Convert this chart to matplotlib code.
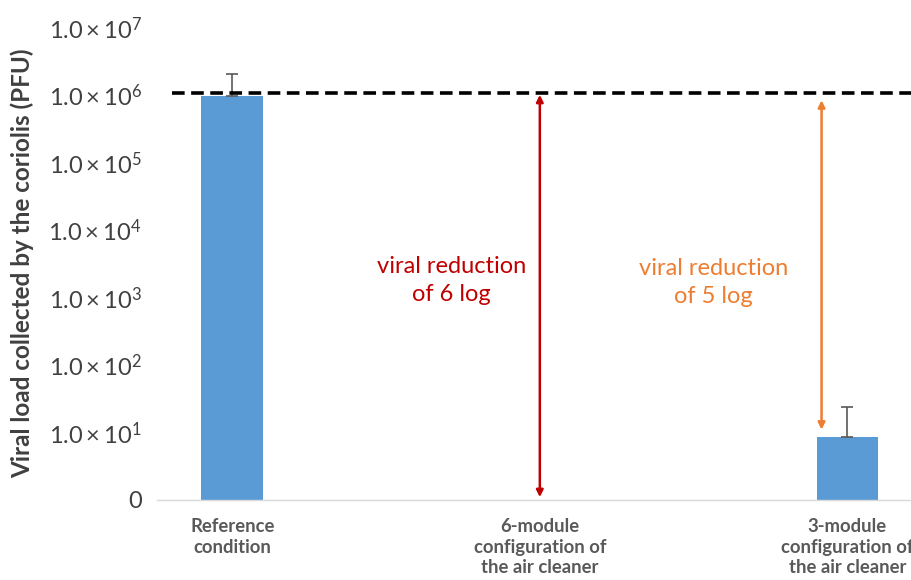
import numpy as np
import matplotlib.pyplot as plt
from matplotlib.ticker import FixedLocator

plt.rcParams['font.family'] = ['Lato', 'DejaVu Sans']
plt.rcParams['mathtext.fontset'] = 'custom'
plt.rcParams['mathtext.rm'] = 'Lato'
plt.rcParams['mathtext.it'] = 'Lato'

# data
categories = ["Reference\ncondition",
              "6-module\nconfiguration of\nthe air cleaner",
              "3-module\nconfiguration of\nthe air cleaner"]
values = [9.5e5, 0, 8.6]
err_up = [1.05e6, 0, 15.5]
reference_level = 1.05e6
tick_vals = [1, 1e1, 1e2, 1e3, 1e4, 1e5, 1e6, 1e7]
tick_labels = ["0"] + [r"$\mathregular{1.0 \times 10^{%d}}$" % k for k in range(1, 8)]

fig = plt.figure(figsize=(9.12, 5.8), dpi=100)
ax = fig.add_axes([0.172, 0.138, 0.828, 0.815])

x = np.arange(len(categories))
bar_color = "#5B9BD5"
ax.bar(x, [v if v > 0 else np.nan for v in values], width=0.2, color=bar_color, bottom=0)

# error bars (upward only)
for i in range(len(values)):
    if values[i] > 0:
        ax.errorbar(x[i], values[i], yerr=[[0], [err_up[i]]], fmt="none",
                    ecolor="#595959", elinewidth=1.2, capsize=4, capthick=1.2)

ax.set_yscale("log")
ax.set_ylim(1, 1e7)
ax.set_xlim(-0.245, 2.21)

ax.yaxis.set_major_locator(FixedLocator(tick_vals))
ax.yaxis.set_minor_locator(FixedLocator([]))
ax.set_yticklabels(tick_labels)
ax.tick_params(axis="y", length=0, pad=11, labelsize=17, labelcolor="#404040")
ax.set_xticks(x)
ax.set_xticklabels(categories, fontsize=13.3, fontweight="bold", color="#595959",
                   linespacing=1.25, va="top")
ax.tick_params(axis="x", length=0, pad=13)

for s in ["top", "right", "left"]:
    ax.spines[s].set_visible(False)
ax.spines["bottom"].set_color("#D9D9D9")
ax.spines["bottom"].set_linewidth(1)

ax.set_ylabel("Viral load collected by the coriolis (PFU)", fontsize=17.5,
              fontweight="bold", color="#404040", labelpad=10)

# dashed reference line
ax.plot([-0.195, 2.21], [reference_level, reference_level], color="black",
        linestyle=(0, (3.5, 1.8)), linewidth=2.6, clip_on=False)

# arrows
ax.annotate("", xy=(1.0, 1.1), xytext=(1.0, 1.0e6),
            arrowprops=dict(arrowstyle="<|-|>", color="#C00000", lw=1.8,
                            mutation_scale=10, shrinkA=0, shrinkB=0))
ax.annotate("", xy=(1.916, 11), xytext=(1.916, 8.3e5),
            arrowprops=dict(arrowstyle="<|-|>", color="#ED7D31", lw=1.8,
                            mutation_scale=10, shrinkA=0, shrinkB=0))

ax.text(0.714, 10**3.25, "viral reduction\nof 6 log", color="#C00000", fontsize=17,
        ha="center", va="center", linespacing=1.45)
ax.text(1.565, 10**3.22, "viral reduction\nof 5 log", color="#ED7D31", fontsize=17,
        ha="center", va="center", linespacing=1.45)

fig.savefig("out.png", dpi=100)
